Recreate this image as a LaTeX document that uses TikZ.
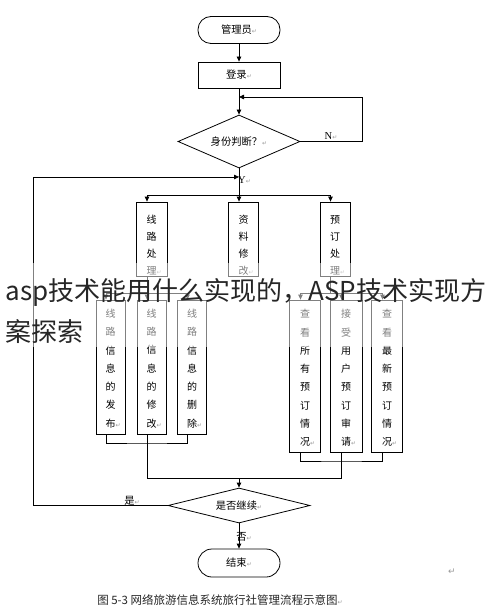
\documentclass[tikz,border=0pt]{standalone}
\usepackage{fontspec}
\setmainfont{Liberation Serif}
\newfontfamily\cjk{Noto Sans CJK SC}
\newfontfamily\symf{DejaVu Sans}
\usetikzlibrary{arrows.meta,shapes.geometric}
\newcommand\retmark{{\symf\fontsize{6}{6}\selectfont\color{black!40}↵}}
\newcommand\ret{\retmark}
\newcommand\retr{\rlap{\retmark}}
\begin{document}
\begin{tikzpicture}[x=1pt,y=-1pt,line width=0.8pt,
  arr/.style={-{Triangle[length=5pt,width=4.5pt]}},
  pill/.style={draw, rounded corners=13pt, minimum width=82pt, minimum height=27pt, inner sep=0pt, font=\cjk\fontsize{10.3}{11}\selectfont},
  proc/.style={draw, minimum width=82pt, minimum height=26pt, inner sep=0pt, font=\cjk\fontsize{10.3}{11}\selectfont},
  dec/.style={draw, diamond, inner sep=0pt, font=\cjk\fontsize{10.3}{11}\selectfont},
  vbox/.style={draw, inner sep=0pt},
  vtxtA/.style={align=center, inner sep=0pt, font=\cjk\fontsize{10}{17}\selectfont},
  vtxtB/.style={align=center, inner sep=0pt, font=\cjk\fontsize{10}{18.3}\selectfont},
  lat/.style={inner sep=0pt, font=\fontsize{10.5}{10.5}\selectfont},
  cjl/.style={inner sep=0pt, font=\cjk\fontsize{10.3}{11}\selectfont}]
\useasboundingbox (0,0) rectangle (490,607);

% main nodes
\node[pill] (start) at (239,30) {管理员\ret};
\node[proc] (login) at (239,75) {登录\ret};
\node[dec, minimum width=122pt, minimum height=53pt, aspect=2.3] (judge) at (239,141.5) {身份判断？\ret};
\node[dec, minimum width=142pt, minimum height=35pt, aspect=4] (cont) at (239,505.5) {是否继续\ret};
\node[pill, minimum height=28pt, rounded corners=14pt] (end) at (239,563) {结束\ret};

% top boxes
\node[vbox, minimum width=31pt, minimum height=74pt] (b1) at (151.5,239) {};
\node[vbox, minimum width=30pt, minimum height=74pt] (b2) at (243.5,239) {};
\node[vbox, minimum width=30pt, minimum height=74pt] (b3) at (335,239) {};
\node[vtxtA] (b1t) at (151.5,245) {线\\路\\处\\理\retr};
\node[vtxtA] (b2t) at (243.5,245) {资\\料\\修\\改\retr};
\node[vtxtA] (b3t) at (335,245) {预\\订\\处\\理\retr};

% lower left boxes
\node[vbox, minimum width=29pt, minimum height=134pt] (l1) at (110.5,367) {};
\node[vbox, minimum width=29pt, minimum height=134pt] (l2) at (151.5,367) {};
\node[vbox, minimum width=29pt, minimum height=134pt] (l3) at (192,367) {};
\node[vtxtB] (l1t) at (110.5,368.5) {线\\路\\信\\息\\的\\发\\布\retr};
\node[vtxtB] (l2t) at (151.5,368.5) {线\\路\\信\\息\\的\\修\\改\retr};
\node[vtxtB] (l3t) at (192,368.5) {线\\路\\信\\息\\的\\删\\除\retr};

% lower right boxes
\node[vbox, minimum width=31pt, minimum height=152pt] (r1) at (305,376) {};
\node[vbox, minimum width=32pt, minimum height=152pt] (r2) at (346,376) {};
\node[vbox, minimum width=31pt, minimum height=152pt] (r3) at (387,376) {};
\node[vtxtB] (r1t) at (305,378) {查\\看\\所\\有\\预\\订\\情\\况\retr};
\node[vtxtB] (r2t) at (346,378) {接\\受\\用\\户\\预\\订\\审\\请\retr};
\node[vtxtB] (r3t) at (387,378) {查\\看\\最\\新\\预\\订\\情\\况\retr};

% junction coordinates
\coordinate (nc) at (362,97);
\coordinate (nj) at (239,97);
\coordinate (yj) at (239,177);
\coordinate (lc) at (33,177);
\coordinate (sp) at (239,195);
\coordinate (ls) at (147,293);
\coordinate (rs) at (330.5,293);
\coordinate (lj) at (147,443);
\coordinate (rj) at (341.5,461);
\coordinate (mc) at (239,478);

% connectors
\draw[arr] (start) -- (login);
\draw[arr] (login) -- (judge);
\draw[arr] (judge.east) -| (nc) -- (nj);
\draw (judge.south) -- (sp);
\draw[arr] (sp) -| ([xshift=-4.5pt]b1.north);
\draw[arr] (sp) -- ([xshift=-4.5pt]b2.north);
\draw[arr] (sp) -| ([xshift=-4.5pt]b3.north);

\draw ([xshift=-4.5pt]b1.south) -- (ls);
\draw[arr] (ls) -| ([xshift=-4.5pt]l1.north);
\draw[arr] (ls) -- ([xshift=-4.5pt]l2.north);
\draw[arr] (ls) -| ([xshift=-4.5pt]l3.north);

\draw ([xshift=-4.5pt]b3.south) -- (rs);
\draw[arr] (rs) -| ([xshift=-4.5pt]r1.north);
\draw[arr] (rs) -| ([xshift=-4.5pt]r2.north);
\draw[arr] (rs) -| ([xshift=-4.5pt]r3.north);

\draw ([xshift=-4.5pt]l1.south) |- (lj) -| ([xshift=-4.5pt]l3.south);
\draw ([xshift=-4.5pt]r1.south) |- (rj) -| ([xshift=-4.5pt]r3.south);
\draw ([xshift=-4.5pt]l2.south) |- (mc);
\draw ([xshift=-4.5pt]r2.south) |- (mc);
\draw[arr] (mc) -- (cont.north);

\draw[arr] (cont.west) -| (lc) -- (yj);
\draw[arr] (cont.south) -- (end.north);

% labels
\node[lat] (nlab) at (331,136.5) {N\ret};
\node[lat] (ylab) at (244.5,180) {Y\ret};
\node[cjl] (shi) at (132,501) {是\ret};
\node[cjl] (fou) at (244,537) {否\ret};

% caption
\node[inner sep=0pt, font=\cjk\fontsize{11.5}{12}\selectfont, text=black!85] (cap) at (220,600) {图 5-3 网络旅游信息系统旅行社管理流程示意图\ret};
\node[inner sep=0pt, font=\symf\fontsize{9}{9}\selectfont, text=black!40] (stray) at (452,572) {↵};

% watermark
\fill[white, opacity=0.5] (0,263) rectangle (490,347);
\node[anchor=west, inner sep=0pt, align=left, font=\cjk\fontsize{26}{41}\selectfont, text=black!85] (wm) at (5,311) {asp技术能用什么实现的，ASP技术实现方\\案探索};
\end{tikzpicture}
\end{document}
